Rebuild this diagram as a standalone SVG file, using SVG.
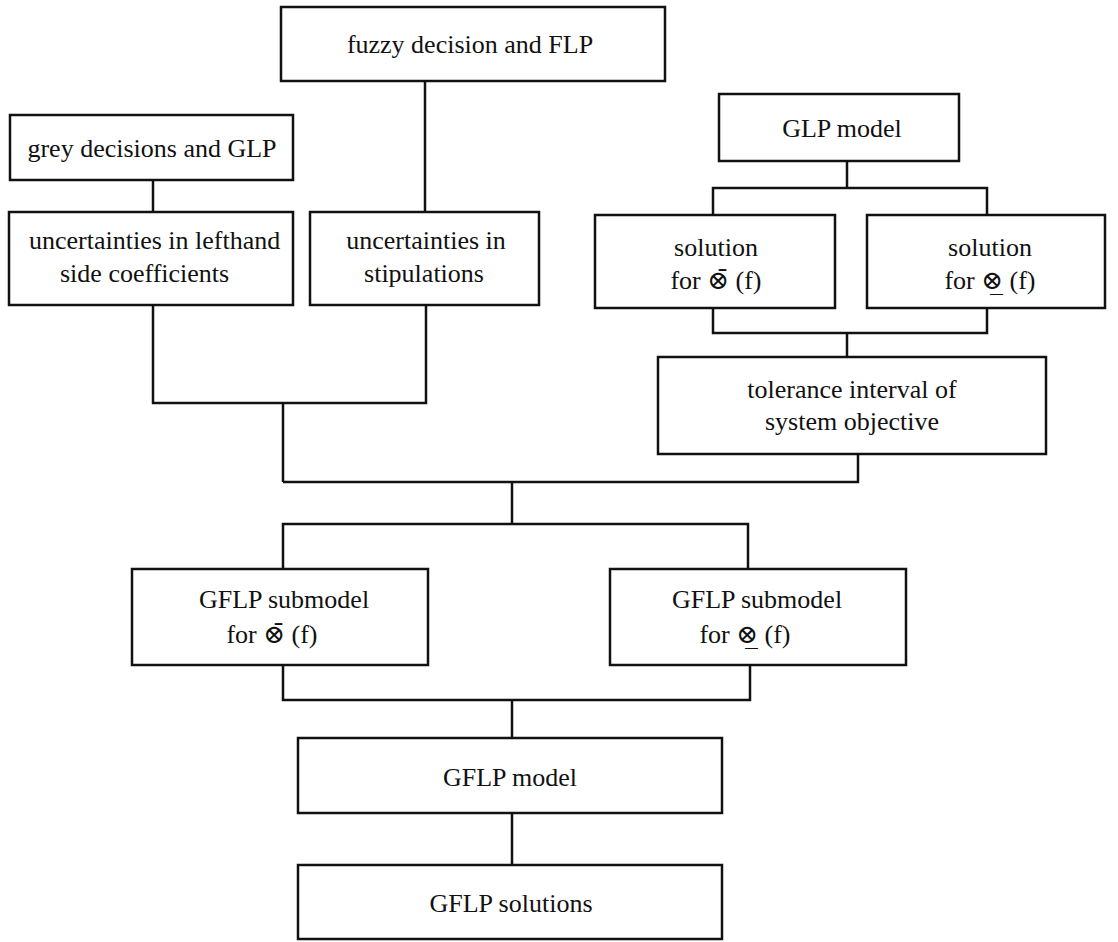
<svg xmlns="http://www.w3.org/2000/svg" width="1118" height="942" viewBox="0 0 1118 942">
  <style>
    .box { fill: #ffffff; stroke: #111111; stroke-width: 2.5; }
    .wire { fill: none; stroke: #111111; stroke-width: 2.5; }
    .lbl { font-family: "Liberation Serif", "DejaVu Serif", serif; font-size: 26px; fill: #111111; text-anchor: middle; }
    .lft { text-anchor: start; }
  </style>
  <rect width="1118" height="942" fill="#ffffff"/>

  <!-- connectors -->
  <g id="connectors">
    <path class="wire" d="M425 81 V212"/>
    <path class="wire" d="M153 180 V212"/>
    <path class="wire" d="M847 161 V188 M713 215 V188 H987 V215"/>
    <path class="wire" d="M713 308 V333 H987 V308 M847 333 V357"/>
    <path class="wire" d="M153 305 V403 H426 V305 M283 403 V482"/>
    <path class="wire" d="M858 454 V482 H283"/>
    <path class="wire" d="M512 482 V524 M283 569 V524 H748 V569"/>
    <path class="wire" d="M283 665 V700 H750 V665 M512 700 V738"/>
    <path class="wire" d="M512 813 V865"/>
  </g>

  <g id="fuzzy-decision">
    <rect class="box" x="281" y="7" width="384" height="74"/>
    <text class="lbl" x="470" y="53">fuzzy decision and FLP</text>
  </g>

  <g id="grey-decisions">
    <rect class="box" x="10" y="115" width="283" height="65"/>
    <text class="lbl" x="152" y="157">grey decisions and GLP</text>
  </g>

  <g id="uncertain-lhs">
    <rect class="box" x="9" y="212" width="284" height="93"/>
    <text class="lbl lft" x="29" y="249">uncertainties in lefthand</text>
    <text class="lbl lft" x="60" y="282">side coefficients</text>
  </g>

  <g id="uncertain-stipulations">
    <rect class="box" x="310" y="212" width="229" height="93"/>
    <text class="lbl" x="426" y="249">uncertainties in</text>
    <text class="lbl" x="424" y="282">stipulations</text>
  </g>

  <g id="glp-model">
    <rect class="box" x="719" y="94" width="240" height="67"/>
    <text class="lbl" x="842" y="137">GLP model</text>
  </g>

  <g id="solution-upper">
    <rect class="box" x="595" y="215" width="240" height="93"/>
    <text class="lbl" x="716" y="256">solution</text>
    <text class="lbl" x="716" y="289">for ⊗̄ (f)</text>
  </g>

  <g id="solution-lower">
    <rect class="box" x="867" y="215" width="238" height="93"/>
    <text class="lbl" x="990" y="256">solution</text>
    <text class="lbl" x="990" y="289">for ⊗̲ (f)</text>
  </g>

  <g id="tolerance">
    <rect class="box" x="658" y="357" width="388" height="97"/>
    <text class="lbl" x="852" y="398">tolerance interval of</text>
    <text class="lbl" x="852" y="430">system objective</text>
  </g>

  <g id="gflp-sub-upper">
    <rect class="box" x="132" y="569" width="296" height="96"/>
    <text class="lbl" x="284" y="608">GFLP submodel</text>
    <text class="lbl" x="272" y="643">for ⊗̄ (f)</text>
  </g>

  <g id="gflp-sub-lower">
    <rect class="box" x="610" y="569" width="296" height="96"/>
    <text class="lbl" x="757" y="608">GFLP submodel</text>
    <text class="lbl" x="745" y="643">for ⊗̲ (f)</text>
  </g>

  <g id="gflp-model">
    <rect class="box" x="298" y="738" width="424" height="75"/>
    <text class="lbl" x="510" y="786">GFLP model</text>
  </g>

  <g id="gflp-solutions">
    <rect class="box" x="298" y="865" width="424" height="74"/>
    <text class="lbl" x="511" y="912">GFLP solutions</text>
  </g>
</svg>
